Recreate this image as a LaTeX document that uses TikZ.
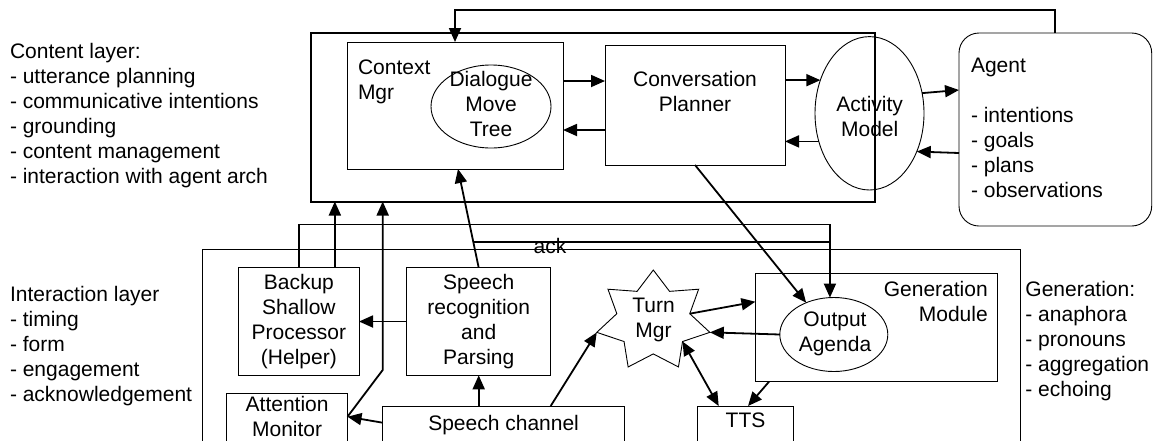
\documentclass[tikz,border=0pt]{standalone}
\usepackage{fontspec}
\setmainfont{Liberation Sans}
\usetikzlibrary{arrows.meta,shapes.geometric,calc}
\begin{document}
\begin{tikzpicture}[x=1pt,y=-1pt,
  every node/.style={inner sep=0pt, outer sep=0pt, font=\fontsize{21}{25}\selectfont},
  box/.style={draw, line width=0.9pt, rectangle, inner sep=0pt},
  bigbox/.style={draw, line width=2pt, rectangle, inner sep=0pt},
  ell/.style={draw, line width=0.9pt, ellipse, inner sep=0pt},
  arr/.style={line width=1.8pt, -{Triangle[length=14pt,width=12pt]}},
  darr/.style={line width=1.8pt, {Triangle[length=14pt,width=12pt]}-{Triangle[length=14pt,width=12pt]}},
  ln/.style={line width=1.8pt}]
\useasboundingbox (0,0) rectangle (1161,440);
\clip (0,0) rectangle (1161,440);

% ---------- content layer ----------
\node[bigbox, minimum width=564, minimum height=168.5] (cl) at (593,117.25) {};
\node[box, minimum width=216, minimum height=127] (cm) at (455,105.5) {};
\node[anchor=north west, align=left] (cmt) at (358,60) {Context\\Mgr};
\node[ell, minimum width=120, minimum height=83] (dmt) at (491,106.5) {};
\node[anchor=north, align=center] (dmtt) at (491,71.7) {Dialogue\\Move\\Tree};
\node[box, minimum width=180, minimum height=119.3] (cp) at (695,105.35) {};
\node[anchor=north, align=center] (cpt) at (695,71.7) {Conversation\\Planner};
\node[ell, minimum width=109, minimum height=153.4] (act) at (869.5,113.3) {};
\node[anchor=north, align=center] (actt) at (869.7,96.7) {Activity\\Model};
\node[draw, line width=0.9pt, rectangle, rounded corners=20pt, minimum width=192.7, minimum height=193] (agent) at (1055.35,129.5) {};
\node[anchor=north west, align=left] (agentt) at (971,58) {Agent\\[25pt]- intentions\\- goals\\- plans\\- observations};

% ---------- interaction layer ----------
\node[box, minimum width=818.1, minimum height=220.7] (il) at (611.75,359.65) {};
\node[box, minimum width=120.3, minimum height=107.6, align=center] (bk) at (298.85,321.5) {Backup\\Shallow\\Processor\\(Helper)};
\node[box, minimum width=144, minimum height=107.6, align=center] (sr) at (478.7,321.5) {Speech\\recognition\\and\\Parsing};
\node[box, minimum width=120.8, minimum height=76.7] (am) at (287.1,431.65) {};
\node[anchor=north, align=center] (amt) at (287.1,396) {Attention\\Monitor};
\node[box, minimum width=241.8, minimum height=64] (sc) at (503.6,438) {};
\node[anchor=north] (sct) at (503.6,415) {Speech channel};
\node[box, minimum width=96.5, minimum height=64] (tts) at (745.25,438) {};
\node[anchor=north] (ttst) at (745.5,413) {TTS};
\node[box, minimum width=242, minimum height=108.4] (gm) at (876.4,327.5) {};
\node[anchor=north east, align=right] (gmt) at (987.7,281.7) {Generation\\Module};
\node[ell, minimum width=108, minimum height=74] (oa) at (833.8,334.5) {};
\node[anchor=north, align=center] (oat) at (835,312) {Output\\Agenda};
\begin{scope}[shift={(653.3,321)}]
\node[draw, line width=0.9pt, star, star points=7, star point ratio=1.55, minimum size=102, xscale=1.137, transform shape] (tm) at (0,0) {};
\end{scope}
\node[anchor=north, align=center] (tmt) at (653.5,298.3) {Turn\\Mgr};

% ---------- side texts ----------
\node[anchor=north west, align=left] (ctl) at (10,43.3) {Content layer:\\- utterance planning\\- communicative intentions\\- grounding\\- content management\\- interaction with agent arch};
\node[anchor=north west, align=left] (itl) at (10,286.7) {Interaction layer\\- timing\\- form\\- engagement\\- acknowledgement};
\node[anchor=north west, align=left] (gnl) at (1025.4,281.7) {Generation:\\- anaphora\\- pronouns\\- aggregation\\- echoing};

% ---------- connectors: content layer ----------
\draw[arr] (agent.north) -- (agent.north |- 0,10) -- (cm.north |- 0,10) -- (cm.north);
\draw[arr] (cm.east |- 0,81) -- (cp.west |- 0,81);
\draw[arr] (cp.west |- 0,130) -- (cm.east |- 0,130);
\draw[arr] (cp.east |- act.146) -- (act.146);
\draw[arr] (act.209) -- (cp.east |- act.209);
\draw[arr] (act.21) -- (agent.west |- 0,90);
\draw[arr] (agent.west |- 0,153) -- (act.321);
\draw[arr] (cp.south) -- (oa.131);

% ---------- connectors: interaction layer ----------
\coordinate (cmin) at ($(cm.south)+(3,0)$);
\draw[arr] (sr.north) -- (cmin);
\coordinate (ackp) at ($(sr.north)!0.263!(cmin)$);
\draw[ln] (ackp) -- (ackp -| oa.96);
\node[anchor=north] (ack) at (550,238.3) {ack};
\draw[arr] (bk.north) -- (bk.north |- 0,224.5) -- (oa.96 |- 0,224.5) -- (oa.96);
\coordinate (bk2) at ($(bk.north)+(36,0)$);
\draw[arr] (bk2) -- (bk2 |- cl.south);
\coordinate (amo) at ($(am.north east)+(0,23.4)$);
\draw[arr] (amo) -- (sc.north west |- 0,370) -- (sc.north west |- cl.south);
\draw[arr] ($(sc.north west)+(0,16.7)$) -- (amo);
\draw[arr] (sr.west) -- (bk.east);
\draw[arr] (sr.south |- sc.north) -- (sr.south);
\draw[arr] ($(sc.north west)+(168,0)$) -- (tm.outer point 3);
\draw[arr] (tm.inner point 6) -- (gm.west |- 0,301.7);
\draw[arr] (oa.west) -- (tm.outer point 6);
\draw[darr] (tm.inner point 5) -- ($(tts.north west)+(21.7,0)$);
\draw[arr] ($(gm.south west)+(13.6,0)$) -- ($(tts.north west)+(51,0)$);
\end{tikzpicture}
\end{document}
